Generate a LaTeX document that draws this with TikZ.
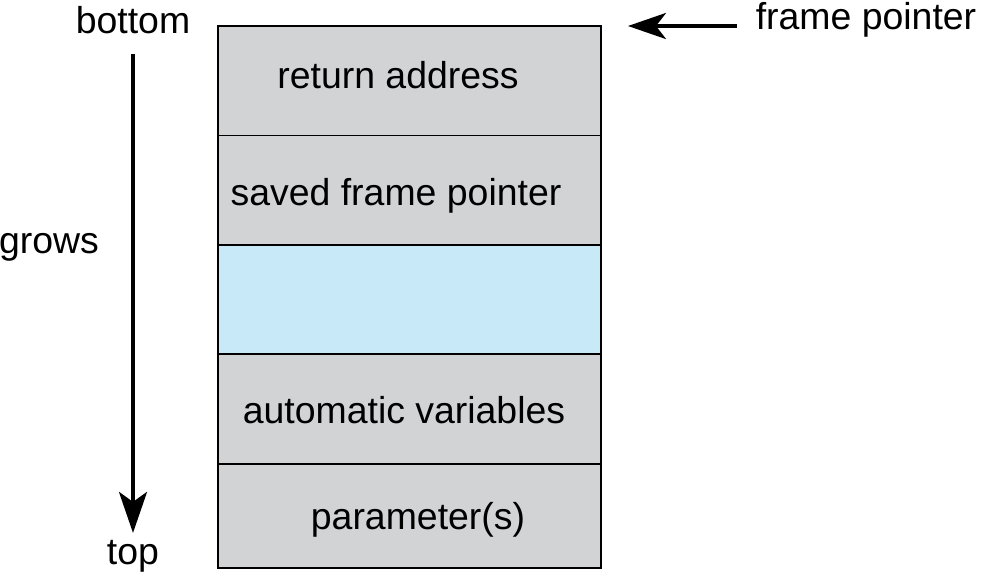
\documentclass[tikz,border=0pt]{standalone}
\usepackage{fontspec}
\setmainfont{Liberation Sans}
\usepackage{xcolor}
\usetikzlibrary{arrows.meta,positioning}

\definecolor{slotgray}{RGB}{209,211,212}
\definecolor{slotblue}{RGB}{199,233,248}

\tikzset{
    slot/.style={draw, line width=1.1pt, minimum width=7.66cm, minimum height=2.19cm, inner sep=0pt, outer sep=0pt, fill=slotgray},
    lbl/.style={font=\fontsize{21.3}{25}\selectfont, inner sep=1pt},
    bigarrow/.style={-{Stealth[length=0.82cm, width=0.56cm, inset=0.2cm]}, line width=2.2pt}
}

\begin{document}
\begin{tikzpicture}[x=0.02cm, y=-0.02cm]
    \useasboundingbox (0,0) rectangle (982,577);

    % Stack frame slots
    \node[slot] (ret) at (409.5,80.75) {};
    \node[slot, below=0pt of ret] (sfp) {};
    \node[slot, below=0pt of sfp, fill=slotblue] (blank) {};
    \node[slot, below=0pt of blank] (auto) {};
    \node[slot, below=0pt of auto, minimum height=2.08cm] (param) {};

    % Slot labels
    \node[lbl] (retlbl) at (398,75) {return address};
    \node[lbl] (sfplbl) at (396,196) {saved frame pointer};
    \node[lbl] (autolbl) at (404,410) {automatic variables};
    \node[lbl] (paramlbl) at (418,520) {parameter(s)};

    % Growth direction
    \node[lbl] (bottom) at (133,20) {bottom};
    \node[lbl] (grows) at (49,247) {grows};
    \node[lbl] (top) at (133,556) {top};
    \draw[bigarrow, shorten <=0.36cm, shorten >=0.1cm] (bottom) -- (top);

    % Frame pointer
    \node[lbl] (fp) at (866,20) {frame pointer};
    \draw[bigarrow, -{Stealth[length=0.76cm, width=0.52cm, inset=0.2cm]}, shorten <=0.34cm]
        (fp.west |- ret.north east) -- ([xshift=0.54cm]ret.north east);
\end{tikzpicture}
\end{document}
